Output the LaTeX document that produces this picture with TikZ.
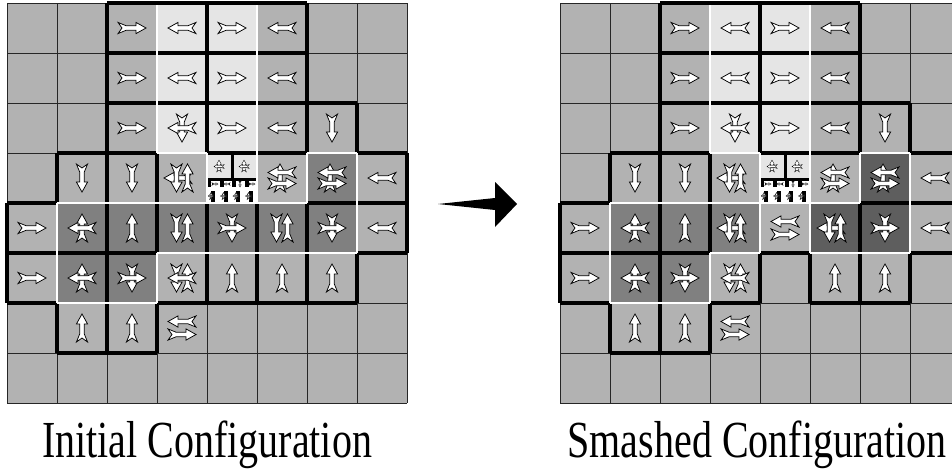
\documentclass[tikz,border=0pt]{standalone}
\usepackage{fontspec}
\setmainfont{Liberation Serif}
\usepackage{graphicx}
\definecolor{cellgray}{gray}{0.70}
\definecolor{lightcell}{gray}{0.90}
\definecolor{darkcell}{gray}{0.50}
\definecolor{deepcell}{gray}{0.37}
\tikzset{
  gridline/.style={line width=1pt, draw=black!85},
  wall/.style={line width=4pt, draw=black, line cap=square},
  seam/.style={line width=2.6pt, draw=white, line cap=square},
  glyph/.style={fill=white, draw=black, line width=0.75pt, line join=miter},
  caption/.style={anchor=base, inner sep=0pt, font=\fontsize{40}{40}\selectfont},
}
% feathered arrow, 28 units long, pointing along +x before rotation
\def\featherpath{(14,0) -- (4,5.6) -- (4,2.3) -- (-6,2.3) -- (-14,5.6) -- (-10,0) -- (-14,-5.6) -- (-6,-2.3) -- (4,-2.3) -- (4,-5.6) -- cycle}
% arrow in cell (col,row) with offset (dx,dy) and angle
\newcommand\arw[5]{\filldraw[glyph, shift={(50*#1+25+#3,50*#2+25+#4)}, rotate=#5] \featherpath;}
% small arrow at a local point with a scale factor
\newcommand\tarw[4]{\filldraw[glyph, line width=0.35pt, shift={(#1,#2)}, rotate=#3, scale=#4] \featherpath;}
\newcommand\glyR[2]{\arw{#1}{#2}{0}{0}{0}}
\newcommand\glyL[2]{\arw{#1}{#2}{0}{0}{180}}
\newcommand\glyU[2]{\arw{#1}{#2}{0}{0}{90}}
\newcommand\glyD[2]{\arw{#1}{#2}{0}{0}{-90}}
\newcommand\glyDU[2]{\arw{#1}{#2}{-5.5}{0}{-90}\arw{#1}{#2}{5.5}{0}{90}}
\newcommand\glyDUl[2]{\arw{#1}{#2}{-4}{0}{180}\glyDU{#1}{#2}}
\newcommand\glyLU[2]{\arw{#1}{#2}{0}{0}{90}\arw{#1}{#2}{0}{0}{180}}
\newcommand\glyRD[2]{\arw{#1}{#2}{0}{0}{-90}\arw{#1}{#2}{0}{0}{0}}
\newcommand\glyLD[2]{\arw{#1}{#2}{0}{0}{-90}\arw{#1}{#2}{0}{0}{180}}
\newcommand\glyLR[2]{\arw{#1}{#2}{0}{-6.5}{180}\arw{#1}{#2}{0}{6.5}{0}}
\newcommand\glyLRv[2]{\arw{#1}{#2}{-2}{0}{90}\arw{#1}{#2}{0}{-5.5}{180}\arw{#1}{#2}{0}{5.5}{0}}
\newcommand\glyLDU[2]{\glyDU{#1}{#2}\arw{#1}{#2}{0}{0}{180}}
% the compressed cell, subdivided into smaller cells
\newcommand\smashcell{%
  \begin{scope}[shift={(200,150)}]
    \fill[lightcell] (0,0) rectangle (50,50);
    \fill[black] (23.5,0) rectangle (26.5,25);
    \fill[black] (0,24.5) rectangle (50,27.5);
    \foreach \x in {12,37} {\tarw{\x}{13}{90}{0.42}\tarw{\x}{13.5}{180}{0.36}}
    \fill[white] (0,27.5) rectangle (50,50);
    \foreach \x in {0,12.5,25,37.5} {
      \fill[black] (\x,27.5) rectangle (\x+4,34);
      \fill[black] (\x+4,38) rectangle (\x+8,50);
    }
    \tarw{8}{31}{0}{0.22}\tarw{20}{31}{180}{0.22}\tarw{33}{31}{-90}{0.22}\tarw{45}{31}{0}{0.22}
    \foreach \x in {4,16.5,29,41.5} {\tarw{\x}{43}{90}{0.25}\tarw{\x}{43}{180}{0.22}}
  \end{scope}}
\newcommand\gridlines{%
  \foreach \i in {0,...,8} {
    \draw[gridline] (50*\i,0) -- (50*\i,400);
    \draw[gridline] (0,50*\i) -- (400,50*\i);
  }}
\begin{document}
\begin{tikzpicture}[x=1pt,y=-1pt]
\useasboundingbox (0,0) rectangle (952,475);
\clip (0,0) rectangle (952,475);

% ---------- initial configuration ----------
\begin{scope}[shift={(7,3)}]
  \fill[cellgray] (0,0) rectangle (400,400);
  \foreach \c/\r in {3/0,4/0,3/1,4/1,3/2,4/2}
    \fill[lightcell] (50*\c,50*\r) rectangle ++(50,50);
  \foreach \c/\r in {6/3,1/4,2/4,3/4,4/4,5/4,6/4,1/5,2/5}
    \fill[darkcell] (50*\c,50*\r) rectangle ++(50,50);
  \gridlines
  \smashcell
  \foreach \k/\a/\b in {0/2/6,1/2/6,2/2/7,3/1/3,3/4/6,3/7/8,4/0/1,4/6/8,5/0/3,5/7/8,6/0/1,6/3/7,7/1/3}
    \draw[wall] (50*\a,50*\k) -- (50*\b,50*\k);
  \foreach \k/\a/\b in {0/4/6,1/3/4,1/6/7,2/0/7,3/3/5,3/6/7,4/0/3,4/4/6,5/4/6,6/0/3,6/4/6,7/2/3,7/5/6,8/3/5}
    \draw[wall] (50*\k,50*\a) -- (50*\k,50*\b);
  \foreach \k/\a/\b in {3/3/4,3/6/7,4/1/6,5/3/7,6/1/3}
    \draw[seam] (50*\a,50*\k) -- (50*\b,50*\k);
  \foreach \k/\a/\b in {1/4/6,3/0/3,3/5/6,4/3/4,5/0/4,6/3/4,7/3/5}
    \draw[seam] (50*\k,50*\a) -- (50*\k,50*\b);
  \draw[wall] (100,0) -- (300,0);
  \foreach \r in {0,1} {\glyR{2}{\r}\glyL{3}{\r}\glyR{4}{\r}\glyL{5}{\r}}
  \glyR{2}{2}\glyLD{3}{2}\glyR{4}{2}\glyL{5}{2}\glyD{6}{2}
  \glyD{1}{3}\glyD{2}{3}\glyDUl{3}{3}\glyLRv{5}{3}\glyLRv{6}{3}\glyL{7}{3}
  \glyR{0}{4}\glyLU{1}{4}\glyU{2}{4}\glyDU{3}{4}\glyRD{4}{4}\glyDU{5}{4}\glyRD{6}{4}\glyL{7}{4}
  \glyR{0}{5}\glyLU{1}{5}\glyRD{2}{5}\glyLDU{3}{5}\glyU{4}{5}\glyU{5}{5}\glyU{6}{5}
  \glyU{1}{6}\glyU{2}{6}\glyLR{3}{6}
\end{scope}

% ---------- smashed configuration ----------
\begin{scope}[shift={(560,3)}]
  \fill[cellgray] (0,0) rectangle (400,400);
  \foreach \c/\r in {3/0,4/0,3/1,4/1,3/2,4/2}
    \fill[lightcell] (50*\c,50*\r) rectangle ++(50,50);
  \foreach \c/\r in {1/4,2/4,3/4,1/5,2/5}
    \fill[darkcell] (50*\c,50*\r) rectangle ++(50,50);
  \foreach \c/\r in {6/3,5/4,6/4}
    \fill[deepcell] (50*\c,50*\r) rectangle ++(50,50);
  \gridlines
  \smashcell
  \foreach \k/\a/\b in {0/2/6,1/2/6,2/2/7,3/1/3,3/4/6,3/7/8,4/0/1,4/6/8,5/0/3,5/4/5,5/7/8,6/0/1,6/3/4,6/5/7,7/1/3}
    \draw[wall] (50*\a,50*\k) -- (50*\b,50*\k);
  \foreach \k/\a/\b in {0/4/6,1/3/4,1/6/7,2/0/7,3/3/5,3/6/7,4/0/3,4/5/6,5/5/6,6/0/3,6/4/6,7/2/3,7/5/6,8/3/5}
    \draw[wall] (50*\k,50*\a) -- (50*\k,50*\b);
  \foreach \k/\a/\b in {3/3/4,3/6/7,4/1/6,5/3/4,5/5/7,6/1/3}
    \draw[seam] (50*\a,50*\k) -- (50*\b,50*\k);
  \foreach \k/\a/\b in {1/4/6,3/0/3,3/5/6,4/3/5,5/0/5,6/3/4,7/3/5}
    \draw[seam] (50*\k,50*\a) -- (50*\k,50*\b);
  \draw[wall] (100,0) -- (300,0);
  \foreach \r in {0,1} {\glyR{2}{\r}\glyL{3}{\r}\glyR{4}{\r}\glyL{5}{\r}}
  \glyR{2}{2}\glyLD{3}{2}\glyR{4}{2}\glyL{5}{2}\glyD{6}{2}
  \glyD{1}{3}\glyD{2}{3}\glyDUl{3}{3}\glyLRv{5}{3}\glyLRv{6}{3}\glyL{7}{3}
  \glyR{0}{4}\glyLU{1}{4}\glyU{2}{4}\glyDUl{3}{4}\glyLR{4}{4}\glyDUl{5}{4}\glyRD{6}{4}\glyL{7}{4}
  \glyR{0}{5}\glyLU{1}{5}\glyRD{2}{5}\glyLDU{3}{5}\glyU{5}{5}\glyU{6}{5}
  \glyU{1}{6}\glyU{2}{6}\glyLR{3}{6}
\end{scope}

% transition arrow
\fill[black] (438,204) -- (495,198) -- (495,182) -- (517,204) -- (495,227) -- (495,210) -- cycle;

% captions
\node[caption] (initcap) at (207,457) {\scalebox{1}[1.3]{Initial Configuration}};
\node[caption] (smashcap) at (757,457) {\scalebox{1}[1.3]{Smashed Configuration}};
\end{tikzpicture}
\end{document}
